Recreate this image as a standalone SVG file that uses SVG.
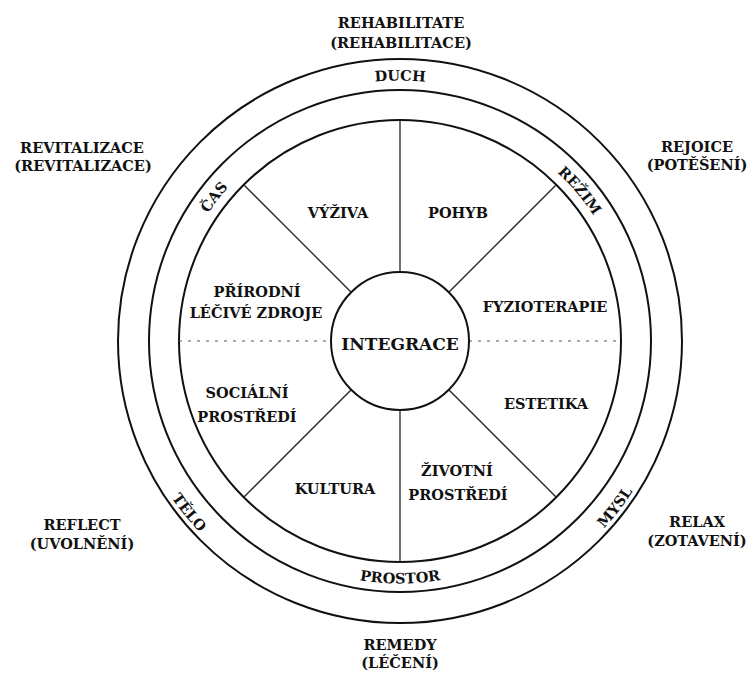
<svg xmlns="http://www.w3.org/2000/svg" xmlns:xlink="http://www.w3.org/1999/xlink" width="751" height="675" viewBox="0 0 751 675">
<style>
text{font-family:"DejaVu Serif","Liberation Serif",serif;font-weight:bold;font-size:14.5px;fill:#111;text-anchor:middle}
.big{font-size:17px}
.ring{fill:none;stroke:#111;stroke-width:2}
.ln{stroke:#222;stroke-width:1.3;fill:none}
.dot{stroke:#555;stroke-width:1;stroke-dasharray:3 6;fill:none}
</style>
<defs>
<path id="cw260" d="M139.5,341 A260.5,260.5 0 0 1 660.5,341 A260.5,260.5 0 0 1 139.5,341"/>
<path id="cw230" d="M169.5,341 A230.5,230.5 0 0 1 630.5,341 A230.5,230.5 0 0 1 169.5,341"/>
<path id="ccw242" d="M157.5,341 A242.5,242.5 0 0 0 642.5,341 A242.5,242.5 0 0 0 157.5,341"/>
<path id="ccw277" d="M123,341 A277,277 0 0 0 677,341 A277,277 0 0 0 123,341"/>
</defs>
<rect width="751" height="675" fill="#fff"/>
<g id="rings">
<circle class="ring" cx="400" cy="341" r="282"/>
<circle class="ring" cx="400" cy="341" r="251"/>
<circle class="ring" cx="400" cy="341" r="221"/>
</g>
<g id="connectors">
<line class="ln" x1="400" y1="120" x2="400" y2="272"/>
<line class="ln" x1="400" y1="410" x2="400" y2="562"/>
<line class="dot" x1="179" y1="341" x2="331" y2="341"/>
<line class="dot" x1="469" y1="341" x2="621" y2="341"/>
<line class="ln" x1="351.2" y1="292.2" x2="243.7" y2="184.7"/>
<line class="ln" x1="448.8" y1="292.2" x2="556.3" y2="184.7"/>
<line class="ln" x1="351.2" y1="389.8" x2="243.7" y2="497.3"/>
<line class="ln" x1="448.8" y1="389.8" x2="556.3" y2="497.3"/>
</g>
<g id="integrace">
<circle class="ring" cx="400" cy="341" r="69"/>
<text class="big" x="400" y="350">INTEGRACE</text>
</g>
<g id="vyziva"><text x="338" y="218">VÝŽIVA</text></g>
<g id="pohyb"><text x="458" y="218">POHYB</text></g>
<g id="prirodni"><text x="257" y="297">PŘÍRODNÍ</text><text x="256" y="318">LÉČIVÉ ZDROJE</text></g>
<g id="fyzioterapie"><text x="545" y="312">FYZIOTERAPIE</text></g>
<g id="socialni"><text x="247" y="398">SOCIÁLNÍ</text><text x="247" y="422">PROSTŘEDÍ</text></g>
<g id="estetika"><text x="546" y="409">ESTETIKA</text></g>
<g id="kultura"><text x="335" y="494">KULTURA</text></g>
<g id="zivotni"><text x="457" y="476">ŽIVOTNÍ</text><text x="458" y="500">PROSTŘEDÍ</text></g>
<g id="duch"><text><textPath xlink:href="#cw260" startOffset="409.2">DUCH</textPath></text></g>
<g id="cas"><text><textPath xlink:href="#cw230" startOffset="151.7">ČAS</textPath></text></g>
<g id="rezim"><text><textPath xlink:href="#cw230" startOffset="563.2">REŽIM</textPath></text></g>
<g id="prostor"><text><textPath xlink:href="#ccw242" startOffset="380.9">PROSTOR</textPath></text></g>
<g id="telo"><text><textPath xlink:href="#ccw277" startOffset="189">TĚLO</textPath></text></g>
<g id="mysl"><text><textPath xlink:href="#ccw277" startOffset="687.5">MYSL</textPath></text></g>
<g id="rehabilitate"><text x="401" y="28">REHABILITATE</text><text x="401" y="48">(REHABILITACE)</text></g>
<g id="revitalizace"><text x="82" y="153">REVITALIZACE</text><text x="83" y="171">(REVITALIZACE)</text></g>
<g id="rejoice"><text x="697" y="152">REJOICE</text><text x="697" y="170">(POTĚŠENÍ)</text></g>
<g id="reflect"><text x="82" y="530">REFLECT</text><text x="82" y="549">(UVOLNĚNÍ)</text></g>
<g id="relax"><text x="697" y="527">RELAX</text><text x="697" y="546">(ZOTAVENÍ)</text></g>
<g id="remedy"><text x="400" y="650">REMEDY</text><text x="400" y="668">(LÉČENÍ)</text></g>
</svg>
